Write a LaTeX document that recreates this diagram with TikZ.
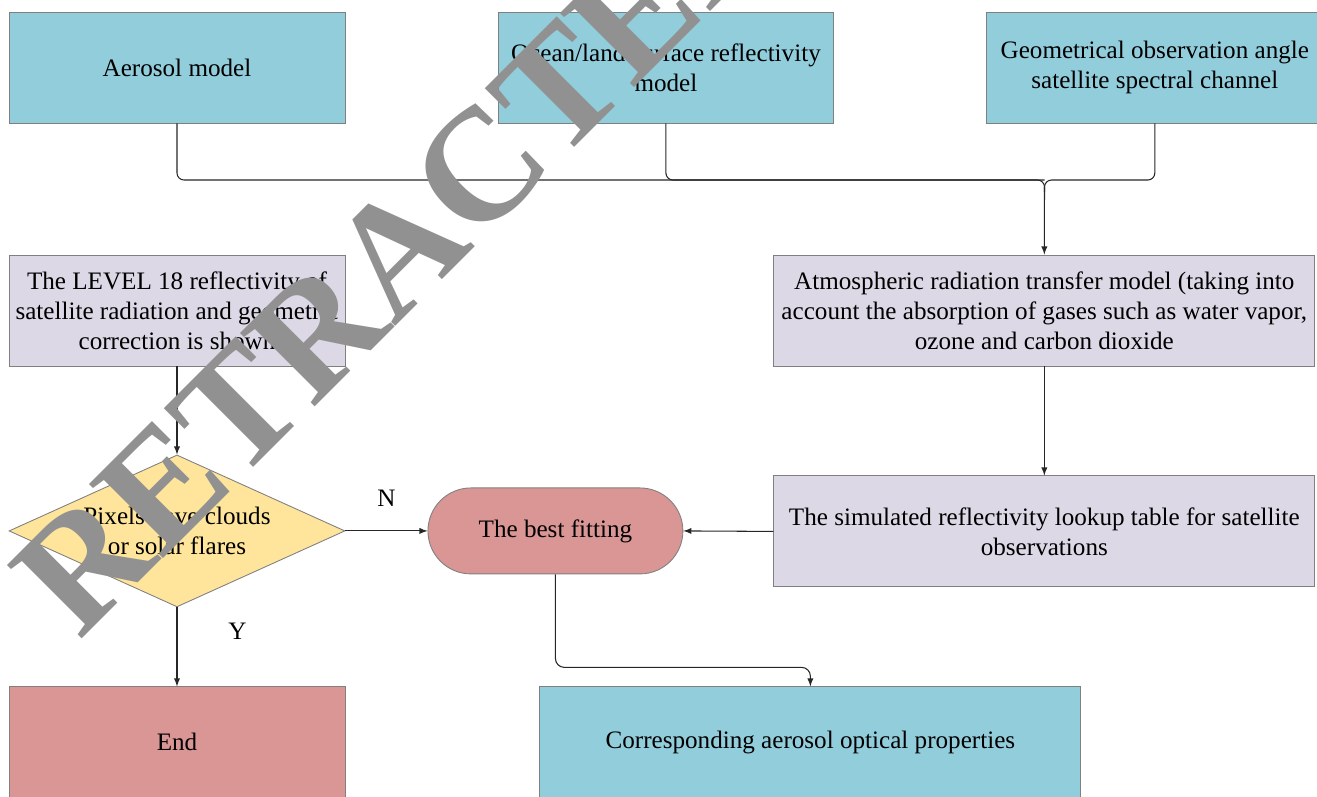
\documentclass[tikz,border=0pt]{standalone}
\usepackage{fontspec}
\setmainfont{Liberation Serif}
\usetikzlibrary{arrows, shapes.geometric}

\definecolor{boxblue}{HTML}{92CDDC}
\definecolor{boxlilac}{HTML}{DCD8E6}
\definecolor{boxpink}{HTML}{D99694}
\definecolor{boxyellow}{HTML}{FEE59B}
\definecolor{boxline}{HTML}{808080}
\definecolor{stampgray}{HTML}{919191}

\begin{document}
\begin{tikzpicture}[x=0.02cm, y=-0.02cm,
		box/.style={rectangle, draw=boxline, line width=0.5pt, inner sep=0pt, align=center,
			font=\fontsize{14.3}{17}\selectfont},
		bluebox/.style={box, fill=boxblue, minimum width=6.72cm, minimum height=2.22cm},
		widebox/.style={box, minimum width=10.82cm, minimum height=2.22cm},
		lilacbox/.style={box, fill=boxlilac, minimum width=6.72cm, minimum height=2.22cm},
		decision/.style={box, diamond, shape aspect=2.2, fill=boxyellow, minimum width=6.72cm, minimum height=3.04cm},
		terminal/.style={box, fill=boxpink, rounded corners=0.86cm, minimum width=5.1cm, minimum height=1.72cm},
		flow/.style={line width=0.6pt, draw=black!85},
		lbl/.style={font=\fontsize{14.3}{17}\selectfont}
		]
		\useasboundingbox (0,0) rectangle (1317,796);

		% input boxes
		\node[bluebox] (aerosol) at (177,67.5) {Aerosol model};
		\node[bluebox, right of = aerosol, xshift = 8.78cm] (ocean) {Ocean/land surface reflectivity\\model};
		\node[bluebox, right of = ocean, xshift = 8.78cm] (geom) {Geometrical observation angle\\satellite spectral channel};

		% middle row
		\node[lilacbox, below of = aerosol, yshift = -3.86cm] (level) {The LEVEL 18 reflectivity of\\satellite radiation and geometric\\correction is shown};
		\node[widebox, fill=boxlilac, below of = geom, xshift = -2.21cm, yshift = -3.86cm] (atmos) {Atmospheric radiation transfer model (taking into\\account the absorption of gases such as water vapor,\\ozone and carbon dioxide};
		\node[widebox, fill=boxlilac, below of = atmos, yshift = -3.42cm] (lookup) {The simulated reflectivity lookup table for satellite\\observations};
		\node[decision, below of = level, yshift = -3.41cm] (pixel) {Pixels have clouds\\or solar flares};
		\node[terminal, right of = pixel, xshift = 6.57cm] (fit) {The best fitting};

		% outputs
		\node[box, fill=boxpink, minimum width=6.72cm, minimum height=2.22cm, below of = pixel, yshift = -3.23cm] (stop) {End};
		\node[widebox, fill=boxblue, right of = stop, xshift = 11.67cm] (optical) {Corresponding aerosol optical properties};

		\coordinate (join) at (1044.5,180);

		\draw[flow, -latex, rounded corners=4pt] (aerosol.south) |- (join) -- (atmos.north);
		\draw[flow, rounded corners=4pt] (ocean.south) |- (join);
		\draw[flow, rounded corners=4pt] (geom.south) |- (join) -- ++(0,12);
		\draw[flow, -latex] (level) -- (pixel);
		\draw[flow, -latex] (pixel.east) -- (fit.west) node[lbl, midway, above, yshift = 0.37cm]{N};
		\draw[flow, -latex] (pixel.south) -- (stop.north) node[lbl, pos=0.3, right, xshift = 0.9cm]{Y};
		\draw[flow, -latex] (atmos) -- (lookup);
		\draw[flow, -latex] (lookup.west) -- (fit.east);
		\draw[flow, -latex, rounded corners=5pt] (fit.south) -- ++(0,93) -| (optical.north);

		% watermark over everything
		\node[text=stampgray, rotate=45, inner sep=0pt, font=\fontsize{91}{91}\selectfont\bfseries] (stamp) at (398,250) {RETRACTED};

	\end{tikzpicture}
\end{document}
